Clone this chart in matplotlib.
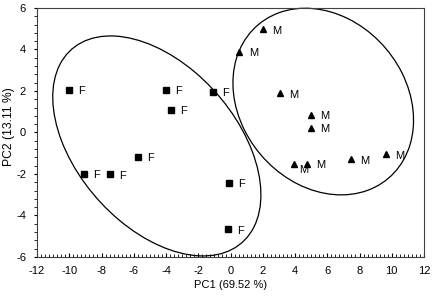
import matplotlib
matplotlib.use("Agg")
import matplotlib.pyplot as plt
from matplotlib.patches import Ellipse
from matplotlib.ticker import MultipleLocator

plt.rcParams["font.family"] = ["Liberation Sans", "DejaVu Sans"]
plt.rcParams["axes.unicode_minus"] = False

# PCA scores
f_x = [-10.0, -4.0, -3.7, -1.1, -5.75, -9.1, -7.5, -0.1, -0.15]
f_y = [2.05, 2.05, 1.08, 1.95, -1.17, -2.0, -2.02, -2.42, -4.67]
m_x = [2.0, 0.55, 3.07, 4.98, 4.98, 3.94, 4.75, 7.47, 9.64]
m_y = [4.97, 3.9, 1.89, 0.84, 0.23, -1.52, -1.52, -1.29, -1.05]

# group ellipses: centre, width, height, angle
ell_f = ((-4.57, -0.65), 14.36, 8.54, -33)
ell_m = ((5.75, 1.49), 11.54, 8.56, -21)

fig = plt.figure(figsize=(4.34, 2.96), dpi=100)
ax = fig.add_axes([0.0853, 0.132, 0.8917, 0.841])

ax.plot(f_x, f_y, "s", color="black", markersize=4.2, linestyle="none")
ax.plot(m_x, m_y, "^", color="black", markersize=4.8, linestyle="none")

for x, y in zip(f_x, f_y):
    ax.annotate("F", (x, y), xytext=(9, -1), textcoords="offset points",
                ha="center", va="center", fontsize=8)
for i, (x, y) in enumerate(zip(m_x, m_y)):
    off = (7, -4) if i == 5 else (10, -1)
    ax.annotate("M", (x, y), xytext=off, textcoords="offset points",
                ha="center", va="center", fontsize=8)

for (c, w, h, a) in [ell_f, ell_m]:
    ax.add_patch(Ellipse(c, w, h, angle=a, fill=False, edgecolor="black",
                         linewidth=0.9, clip_on=False))

ax.set_xlim(-12, 12)
ax.set_ylim(-6, 6)
ax.xaxis.set_major_locator(MultipleLocator(2))
ax.xaxis.set_minor_locator(MultipleLocator(0.25))
ax.yaxis.set_major_locator(MultipleLocator(2))
ax.yaxis.set_minor_locator(MultipleLocator(0.4))
ax.tick_params(axis="x", which="both", direction="in", labelsize=8, pad=6.5)
ax.tick_params(axis="x", which="major", length=3)
ax.tick_params(axis="x", which="minor", length=2.2)
ax.tick_params(axis="y", which="both", direction="out", labelsize=8, pad=5.4)
ax.tick_params(axis="y", which="major", length=2.5)
ax.tick_params(axis="y", which="minor", length=2.2)
for s in ax.spines.values():
    s.set_color("#404040")
    s.set_linewidth(0.8)

ax.set_xlabel("PC1 (69.52 %)", fontsize=8, labelpad=3)
ax.set_ylabel("PC2 (13.11 %)", fontsize=8.7, labelpad=1)
ax.yaxis.set_label_coords(-0.058, 0.524)

fig.savefig("out.png", dpi=100)
